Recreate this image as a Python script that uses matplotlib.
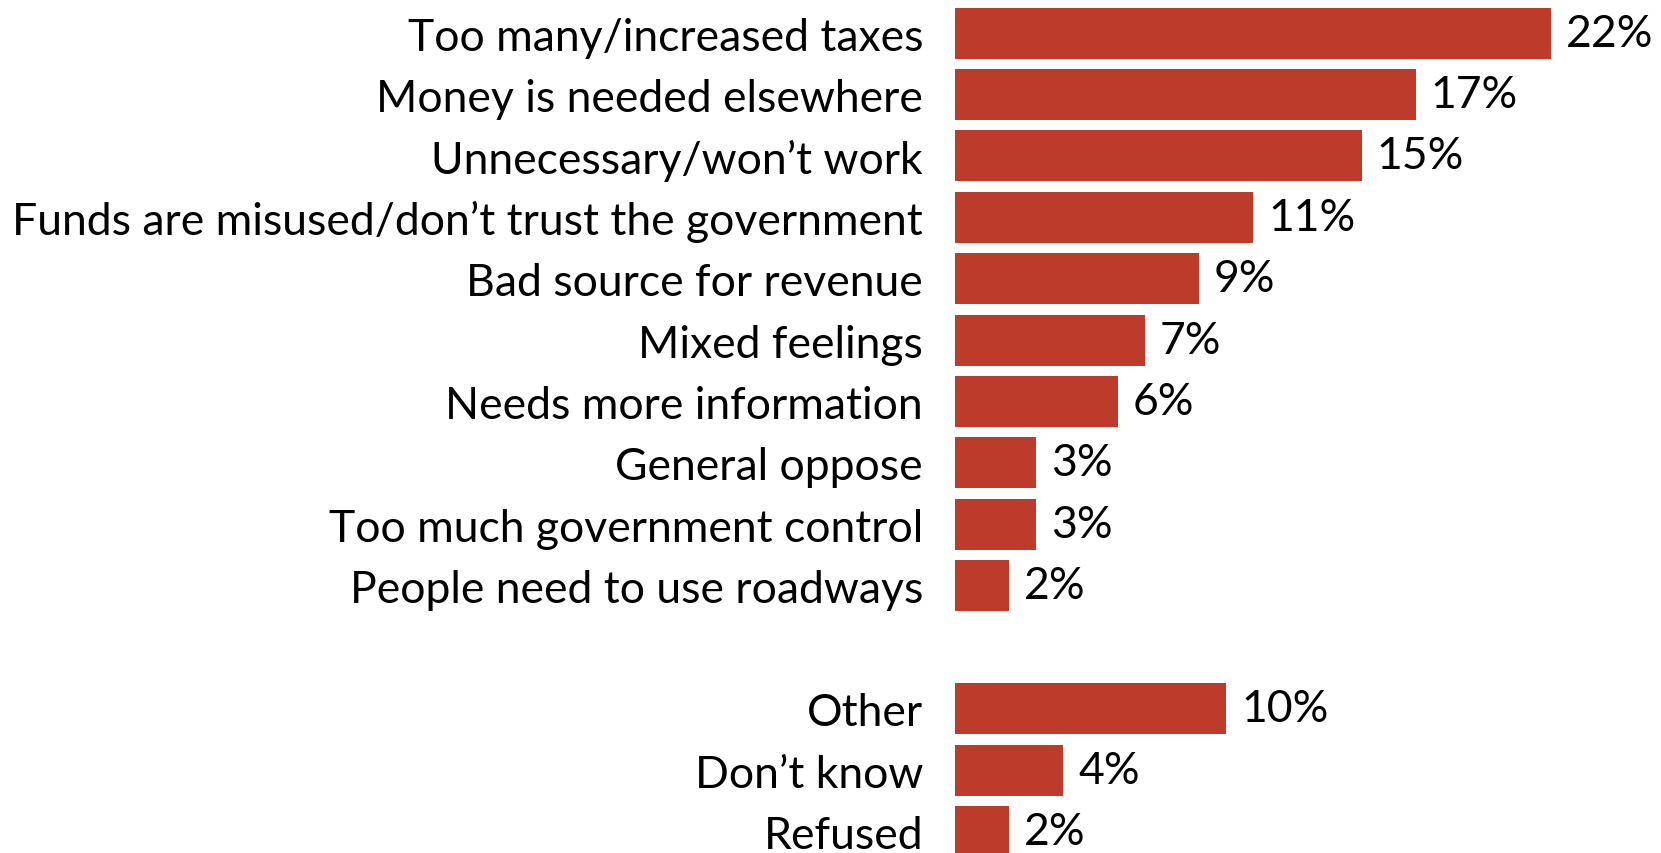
import matplotlib
matplotlib.use("Agg")
import matplotlib.pyplot as plt

reasons = ["Too many/increased taxes", "Money is needed elsewhere", "Unnecessary/won\u2019t work",
           "Funds are misused/don\u2019t trust the government", "Bad source for revenue", "Mixed feelings",
           "Needs more information", "General oppose", "Too much government control",
           "People need to use roadways"]
reason_pct = [22, 17, 15, 11, 9, 7, 6, 3, 3, 2]
extra = ["Other", "Don\u2019t know", "Refused"]
extra_pct = [10, 4, 2]

BAR = "#BD3B2A"
plt.rcParams["font.family"] = ["Lato", "DejaVu Sans"]

labels = reasons + extra
values = reason_pct + extra_pct
# blank row between the reasons and the other answers
ypos = list(range(len(reasons))) + [len(reasons) + 1 + i for i in range(len(extra))]

fig = plt.figure(figsize=(16.61, 8.54), dpi=100)
ax = fig.add_axes([955 / 1661, 0, 1 - 955 / 1661, 1])
ax.barh(ypos, values, height=0.83, color=BAR)
for y, v in zip(ypos, values):
    ax.annotate(f"{v}%", (v, y), xytext=(15, 0), textcoords="offset pixels",
                va="center", ha="left", fontsize=32)

ax.set_yticks(ypos)
ax.set_yticklabels(labels, fontsize=32)
ax.tick_params(axis="y", length=0, pad=23)
ax.set_xticks([])
ax.set_xlim(0, (1661 - 955) / 27.1)
ax.set_ylim(13.35, -0.554)
for s in ax.spines.values():
    s.set_visible(False)

fig.savefig("out.png", dpi=100)
